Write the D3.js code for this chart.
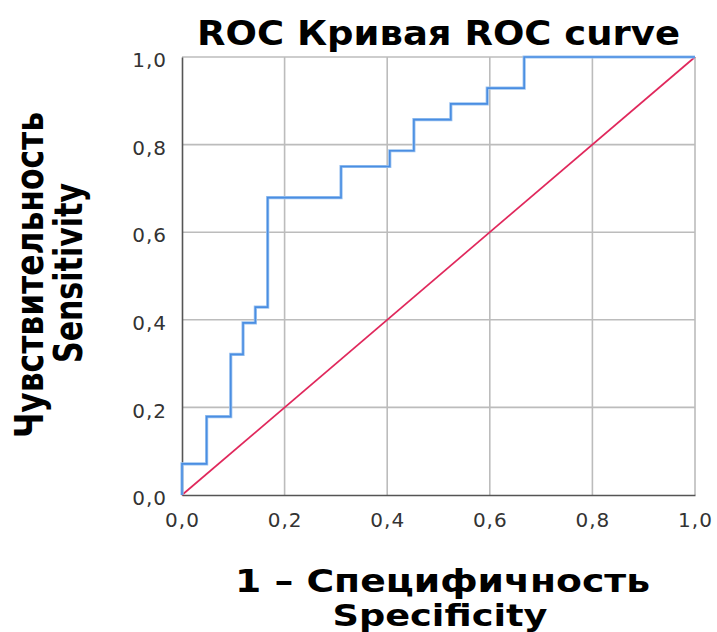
<!DOCTYPE html>
<html>
<head>
<meta charset="utf-8">
<script src="https://cdn.jsdelivr.net/npm/d3@7"></script>
<style>
body{margin:0;background:#fff}
svg text{font-family:"DejaVu Sans",sans-serif}
</style>
</head>
<body>
<div id="chart"></div>
<script>
// step points of the roc curve (1 - specificity, sensitivity)
var fpr = [0, 0, 0.048, 0.095, 0.119, 0.143, 0.167, 0.310, 0.405, 0.452, 0.524, 0.595, 0.667, 1.0]
var tpr = [0, 0.071, 0.179, 0.321, 0.393, 0.429, 0.679, 0.750, 0.786, 0.857, 0.893, 0.929, 1.0, 1.0]
var refLine = [0, 1]
var ticks = [0, 0.2, 0.4, 0.6, 0.8, 1.0]

var title = "ROC Кривая ROC curve"
var xTitle = ["1 – Специфичность", "Specificity"]
var yTitle = ["Чувствительность", "Sensitivity"]

// note: "top" is taken by window.top, so plot box names are prefixed
var plotLeft = 182, plotTop = 57, plotW = 513, plotH = 438

var svg = d3.select("#chart").append("svg").attr("width",717).attr("height",632)

var x = d3.scaleLinear().domain([0,1]).range([plotLeft,plotLeft+plotW])
var y = d3.scaleLinear().domain([0,1]).range([plotTop+plotH,plotTop])
var fmt = function(d){return d3.format(".1f")(d).replace(".",",")}

// grid
svg.selectAll(".gridx")
    .data(ticks.slice(1))
    .enter()
    .append("line")
    .attr("x1",function(d){return x(d)}).attr("x2",function(d){return x(d)})
    .attr("y1",y(0)).attr("y2",y(1))
    .attr("stroke","#bcbcbc").attr("stroke-width",1.6)
svg.selectAll(".gridy")
    .data(ticks.slice(1))
    .enter()
    .append("line")
    .attr("y1",function(d){return y(d)}).attr("y2",function(d){return y(d)})
    .attr("x1",x(0)).attr("x2",x(1))
    .attr("stroke","#bcbcbc").attr("stroke-width",1.6)

// axes
var xAxis = svg.append("g").attr("transform","translate(0,"+y(0)+")")
    .call(d3.axisBottom(x).tickValues(ticks).tickFormat(fmt).tickSize(0).tickPadding(18))
xAxis.select(".domain").attr("stroke","#555").attr("stroke-width",1.6)
xAxis.selectAll("text").attr("font-size",20).attr("fill","#333").attr("letter-spacing",1)
    .attr("font-family","DejaVu Sans")

var yAxis = svg.append("g").attr("transform","translate("+x(0)+",0)")
    .call(d3.axisLeft(y).tickValues(ticks).tickFormat(fmt).tickSize(0).tickPadding(15))
yAxis.select(".domain").attr("stroke","#555").attr("stroke-width",1.6)
yAxis.selectAll("text").attr("font-size",20).attr("fill","#333").attr("letter-spacing",1)
    .attr("dy","0.48em").attr("font-family","DejaVu Sans")

// reference diagonal
svg.append("line")
    .attr("x1",x(refLine[0])).attr("y1",y(refLine[0]))
    .attr("x2",x(refLine[1])).attr("y2",y(refLine[1]))
    .attr("stroke","#e0285c").attr("stroke-width",1.7)

// roc curve
var line = d3.line()
    .x(function(d,i){return x(fpr[i])})
    .y(function(d,i){return y(tpr[i])})
    .curve(d3.curveStepAfter)
svg.append("path")
    .attr("d",line(fpr))
    .attr("fill","none")
    .attr("stroke","#9cc3f0").attr("stroke-width",3.2)
svg.append("path")
    .attr("d",line(fpr))
    .attr("fill","none")
    .attr("stroke","#4a8ee2").attr("stroke-width",1.6)

// titles
svg.append("text").text(title)
    .attr("x",438.5).attr("y",45)
    .attr("text-anchor","middle").attr("font-size",33).attr("font-weight","bold")
    .attr("textLength",483).attr("lengthAdjust","spacingAndGlyphs")

svg.append("text").text(xTitle[0])
    .attr("x",442.5).attr("y",592)
    .attr("text-anchor","middle").attr("font-size",32).attr("font-weight","bold")
    .attr("textLength",415).attr("lengthAdjust","spacingAndGlyphs")
svg.append("text").text(xTitle[1])
    .attr("x",440).attr("y",626)
    .attr("text-anchor","middle").attr("font-size",30).attr("font-weight","bold")
    .attr("textLength",215).attr("lengthAdjust","spacingAndGlyphs")

svg.append("text").text(yTitle[0])
    .attr("transform","translate(43,275) rotate(-90)")
    .attr("text-anchor","middle").attr("font-size",39).attr("font-weight","bold")
    .attr("textLength",326).attr("lengthAdjust","spacingAndGlyphs")
svg.append("text").text(yTitle[1])
    .attr("transform","translate(82,273) rotate(-90)")
    .attr("text-anchor","middle").attr("font-size",39).attr("font-weight","bold")
    .attr("textLength",180).attr("lengthAdjust","spacingAndGlyphs")
</script>
</body>
</html>
